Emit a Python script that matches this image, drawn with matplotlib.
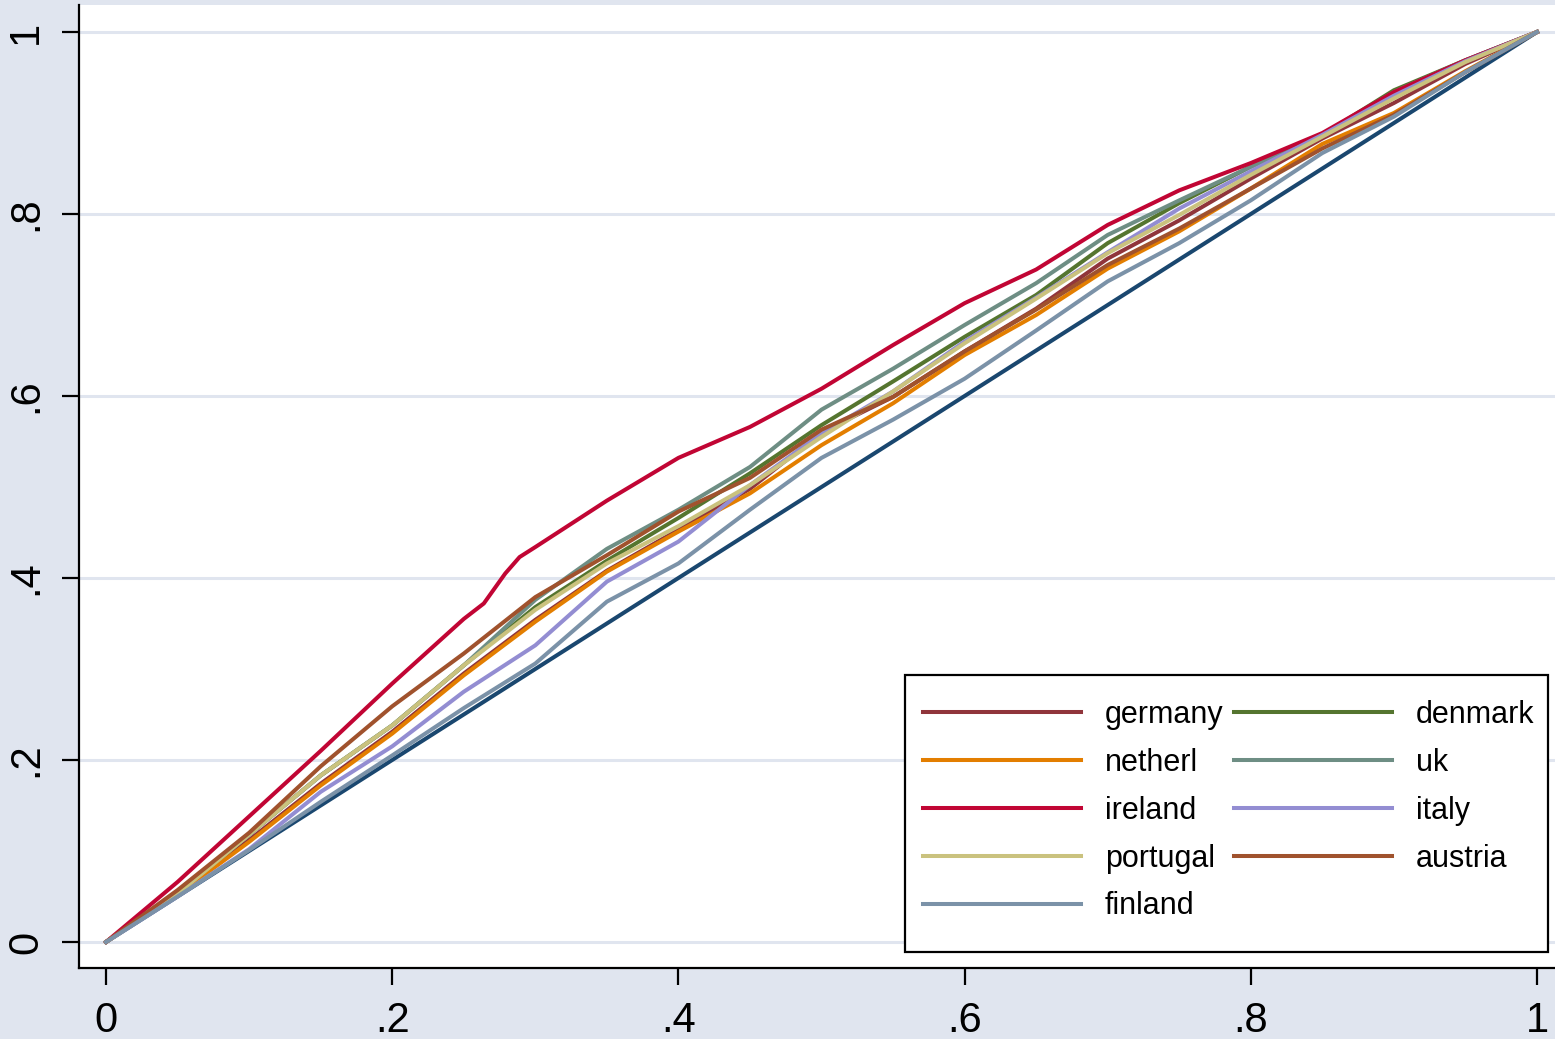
import matplotlib
matplotlib.use("Agg")
import matplotlib.pyplot as plt
from matplotlib.patches import Rectangle

plt.rcParams['font.family'] = ['Liberation Sans', 'DejaVu Sans']

# Cumulative population share (x) and cumulative share of the variable (y)
pop_share = [0, .05, .10, .15, .20, .25, .30, .35, .40, .45, .50,
             .55, .60, .65, .70, .75, .80, .85, .90, .95, 1]

germany = [0, .053, .112, .174, .231, .295, .354, .408, .453, .498, .560,
           .599, .649, .696, .751, .793, .839, .883, .922, .965, 1]
denmark = [0, .054, .118, .183, .238, .304, .368, .419, .466, .515, .568,
           .616, .665, .711, .768, .812, .852, .887, .936, .969, 1]
netherl = [0, .052, .110, .172, .229, .293, .352, .407, .451, .493, .546,
           .592, .645, .689, .740, .781, .828, .877, .911, .957, 1]
uk = [0, .054, .118, .183, .238, .304, .376, .432, .475, .522, .585,
      .630, .678, .724, .777, .815, .852, .887, .934, .969, 1]
italy = [0, .050, .102, .165, .215, .275, .326, .396, .440, .502, .559,
         .605, .660, .708, .758, .806, .847, .887, .930, .968, 1]
portugal = [0, .053, .118, .183, .238, .304, .365, .416, .457, .502, .555,
            .605, .658, .707, .757, .799, .843, .885, .927, .967, 1]
austria = [0, .057, .120, .193, .259, .317, .379, .425, .473, .510, .563,
           .599, .649, .695, .744, .784, .828, .872, .909, .956, 1]
finland = [0, .050, .101, .154, .205, .257, .306, .374, .416, .475, .532,
           .574, .619, .672, .726, .768, .815, .867, .907, .956, 1]

# Ireland has a sharp step just below .3, so it is read on a finer grid there
ireland_share = [0, .05, .10, .15, .20, .25, .264, .279, .289, .30, .35, .40,
                 .45, .50, .55, .60, .65, .70, .75, .80, .85, .90, .95, 1]
ireland = [0, .066, .138, .210, .284, .355, .372, .405, .423, .434, .485, .532,
           .566, .608, .656, .702, .739, .788, .826, .856, .889, .934, .969, 1]

equality = [0, 1]

series = [
    ("germany", pop_share, germany, "#90353B"),
    ("denmark", pop_share, denmark, "#55752F"),
    ("netherl", pop_share, netherl, "#E37E00"),
    ("uk", pop_share, uk, "#6E8E84"),
    ("ireland", ireland_share, ireland, "#C10534"),
    ("italy", pop_share, italy, "#938DD2"),
    ("portugal", pop_share, portugal, "#CAC27E"),
    ("austria", pop_share, austria, "#A0522D"),
    ("finland", pop_share, finland, "#7B92A8"),
]

y_ticks = [0, .2, .4, .6, .8, 1]
y_tick_labels = ["0", ".2", ".4", ".6", ".8", "1"]
x_ticks = [0, .2, .4, .6, .8, 1]
x_tick_labels = ["0", ".2", ".4", ".6", ".8", "1"]

BG = "#E0E5EF"
W, H = 1555, 1039
fig = plt.figure(figsize=(W / 100, H / 100), dpi=100, facecolor=BG)
ax = fig.add_axes([79 / W, 71 / H, (W - 79) / W, (968 - 5) / H])
ax.set_facecolor("white")

for y in y_ticks:
    ax.axhline(y, color=BG, lw=2.2, zorder=0)

ax.plot(equality, equality, color="#1A476F", lw=2.9, zorder=2)
handles = {}
for name, xs, vals, col in series:
    h, = ax.plot(xs, vals, color=col, lw=2.9, label=name, zorder=3,
                 solid_joinstyle="round")
    handles[name] = h

ax.set_xlim(-0.0189, 1.0126)
ax.set_ylim(-0.0286, 1.0297)

for s in ("top", "right"):
    ax.spines[s].set_visible(False)
for s in ("left", "bottom"):
    ax.spines[s].set_linewidth(1.6)
    ax.spines[s].set_color("black")

ax.set_xticks(x_ticks)
ax.set_xticklabels(x_tick_labels)
ax.set_yticks(y_ticks)
ax.set_yticklabels(y_tick_labels, rotation=90, va="center")
ax.tick_params(axis="both", direction="out", length=12.5, width=1.6,
               labelsize=30, pad=11)

# Legend box, then the entries laid out row by row (two per row)
box = Rectangle((905 / W, (H - 952) / H), 643 / W, 277 / H,
                transform=fig.transFigure, facecolor="white",
                edgecolor="black", lw=1.6, zorder=6, clip_on=False)
ax.add_patch(box)

col1 = ["germany", "netherl", "ireland", "portugal", "finland"]
col2 = ["denmark", "uk", "italy", "austria"]
order = col1 + col2
leg = ax.legend(handles=[handles[n] for n in order], labels=order, ncol=2,
                loc="upper left",
                bbox_to_anchor=(923 / W, 1 - 700 / H),
                bbox_transform=fig.transFigure,
                fontsize=22, frameon=False,
                handlelength=5.17, handletextpad=0.785,
                columnspacing=0.33, labelspacing=0.585, borderpad=0,
                borderaxespad=0)
leg.set_zorder(7)

fig.savefig("out.png", dpi=100, facecolor=BG)
